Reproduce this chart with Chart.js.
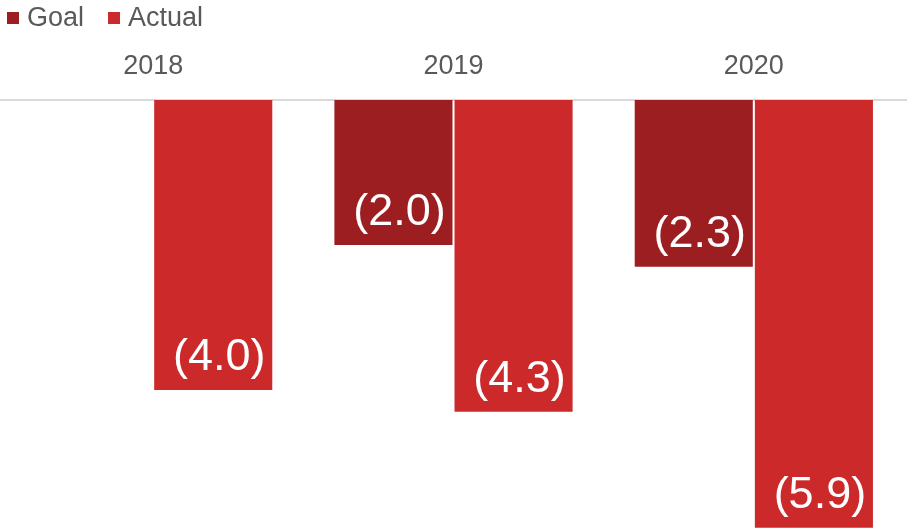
<!DOCTYPE html>
<html>
<head>
<meta charset="utf-8">
<script src="https://cdn.jsdelivr.net/npm/chart.js@4"></script>
<style>
  html, body { margin: 0; padding: 0; background: #fff; }
  #wrap { width: 907px; height: 530px; }
</style>
</head>
<body>
<div id="wrap"><canvas id="c" width="907" height="530"></canvas></div>
<script>
const years = ['2018', '2019', '2020'];
const goalValues = [null, -2.0, -2.3];
const actualValues = [-4.0, -4.3, -5.9];
const seriesNames = ['Goal', 'Actual'];
const seriesColors = ['#9C1E21', '#CC2A2A'];

const FONT = "'Liberation Sans', Arial, sans-serif";
const TEXT_GREY = '#595959';

// Compact legend in the top-left corner: small square swatch, tight gap to the name
const cornerLegend = {
  id: 'cornerLegend',
  afterDraw(chart) {
    const ctx = chart.ctx;
    ctx.save();
    ctx.font = '27px ' + FONT;
    ctx.textBaseline = 'alphabetic';
    ctx.textAlign = 'left';
    let x = 7;
    chart.data.datasets.forEach((ds) => {
      ctx.fillStyle = ds.backgroundColor;
      ctx.fillRect(x, 12, 12, 12);
      ctx.fillStyle = TEXT_GREY;
      ctx.fillText(ds.label, x + 20, 26);
      x += 20 + ctx.measureText(ds.label).width + 24;
    });
    ctx.restore();
  }
};

// Thin grey rule along the zero line, across the full width
const zeroRule = {
  id: 'zeroRule',
  beforeDatasetsDraw(chart) {
    const ctx = chart.ctx;
    const y = chart.scales.y.getPixelForValue(0);
    ctx.save();
    ctx.strokeStyle = '#d9d9d9';
    ctx.lineWidth = 2;
    ctx.beginPath();
    ctx.moveTo(0, y);
    ctx.lineTo(chart.width, y);
    ctx.stroke();
    ctx.restore();
  }
};

// Writes each bar's value, in parentheses, near the bottom end of the bar
const valueLabels = {
  id: 'valueLabels',
  afterDatasetsDraw(chart) {
    const ctx = chart.ctx;
    ctx.save();
    ctx.fillStyle = '#ffffff';
    ctx.font = '45px ' + FONT;
    ctx.textAlign = 'center';
    ctx.textBaseline = 'alphabetic';
    chart.data.datasets.forEach((ds, di) => {
      const meta = chart.getDatasetMeta(di);
      meta.data.forEach((bar, i) => {
        const v = ds.data[i];
        if (v === null || v === undefined) return;
        const txt = '(' + Math.abs(v).toFixed(1) + ')';
        ctx.fillText(txt, bar.x + 6, bar.y - 20);
      });
    });
    ctx.restore();
  }
};

new Chart(document.getElementById('c'), {
  type: 'bar',
  data: {
    labels: years,
    datasets: [
      { label: seriesNames[0], data: goalValues, backgroundColor: seriesColors[0],
        categoryPercentage: 0.8, barPercentage: 0.983 },
      { label: seriesNames[1], data: actualValues, backgroundColor: seriesColors[1],
        categoryPercentage: 0.8, barPercentage: 0.983 }
    ]
  },
  options: {
    responsive: false,
    animation: false,
    layout: { padding: { left: 3, right: 3, top: 50, bottom: 0 } },
    plugins: {
      legend: { display: false },
      tooltip: { enabled: false }
    },
    scales: {
      x: {
        position: 'top',
        grid: { display: false, drawTicks: false },
        border: { display: false },
        ticks: {
          color: TEXT_GREY,
          font: { family: FONT, size: 27 },
          padding: 17
        },
        afterFit(scale) { scale.height = 50; }
      },
      y: {
        display: false,
        min: -5.93,
        max: 0
      }
    }
  },
  plugins: [zeroRule, valueLabels, cornerLegend]
});
</script>
</body>
</html>
